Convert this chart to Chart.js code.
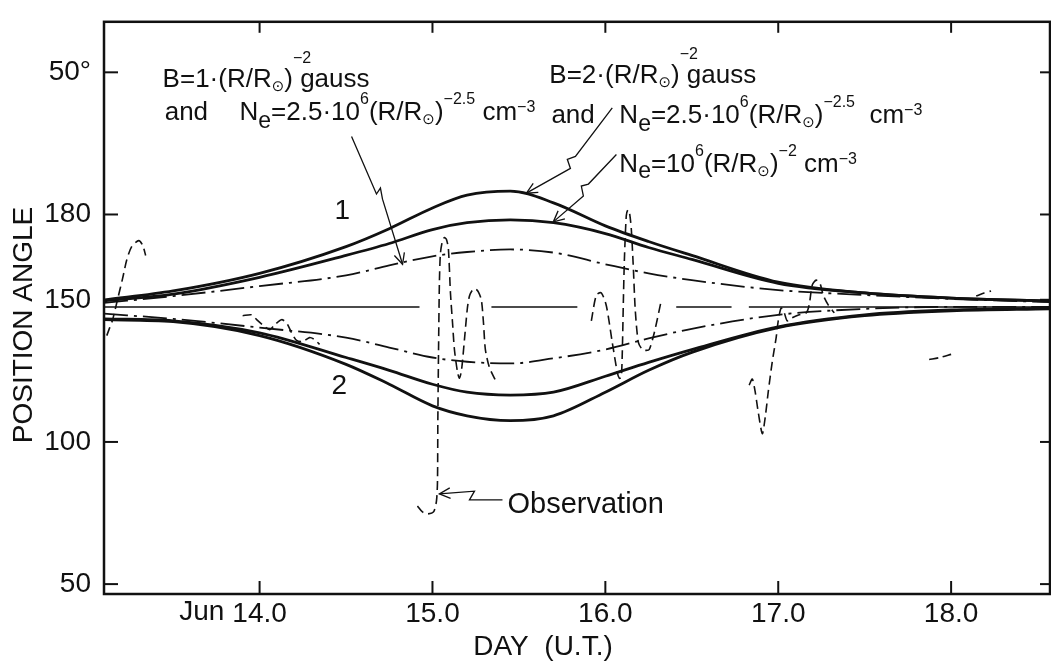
<!DOCTYPE html>
<html>
<head>
<meta charset="utf-8">
<script src="https://cdn.jsdelivr.net/npm/chart.js@4.4.0/dist/chart.umd.min.js"></script>
<style>
html, body { margin: 0; padding: 0; background: #fff; overflow: hidden; }
</style>
</head>
<body>
<canvas id="chart" width="1051" height="663"></canvas>
<script>
var INK = '#111';
var FONT = "'Liberation Sans', 'DejaVu Sans', Arial, sans-serif";

// model curves, sampled on the same days
var days = [13.1, 13.5, 14.0, 14.5, 14.75, 15.0, 15.2, 15.45, 15.7, 16.0, 16.25, 16.5, 17.0, 17.5, 18.0, 18.57];
var upperOuter   = [149.9, 153.1, 159.3, 168.7, 175.0, 182.3, 186.8, 188.2, 184.1, 176.0, 170.5, 165.6, 156.2, 152.4, 150.6, 149.6];
var upperInner   = [149.6, 152.0, 157.9, 165.6, 169.8, 174.7, 177.1, 178.1, 177.1, 173.3, 168.4, 164.2, 155.8, 152.4, 150.6, 149.6];
var upperDashDot = [148.9, 151.3, 154.8, 158.6, 162.1, 165.3, 166.8, 167.7, 166.6, 162.5, 159.3, 156.9, 153.4, 151.7, 150.3, 149.2];
var lowerDashDot = [145.1, 143.3, 140.2, 136.7, 133.2, 129.7, 128.2, 127.6, 129.4, 132.5, 136.4, 139.8, 144.7, 146.8, 147.5, 147.5];
var lowerInner   = [143.3, 142.6, 138.4, 129.7, 125.2, 120.3, 117.5, 116.5, 117.5, 123.1, 128.0, 132.5, 140.5, 144.7, 146.4, 147.1];
var lowerOuter   = [143.0, 142.3, 137.4, 127.3, 120.3, 112.7, 109.2, 107.5, 109.2, 117.5, 125.2, 131.5, 140.2, 144.4, 146.1, 146.8];

// long-dashed reference line (null = gap)
var centerDay   = [13.1, 14.925, 15.1, 15.341, 15.838, 16.1, 16.41, 16.73, 16.78, 16.83, 18.57];
var centerAngle = [147.5, 147.5, null, 147.5, 147.5, null, 147.5, 147.5, null, 147.5, 147.5];

// observation (null = break between traced pieces)
var obsDay = [
  13.116, 13.133, 13.150, 13.179, 13.208, 13.231, 13.260, 13.301, 13.324, 13.341,
  13.6,
  13.902, 13.954, 13.983, 14.017, 14.058, 14.087, 14.127, 14.156, 14.185, 14.214, 14.249, 14.289, 14.318, 14.347,
  14.6,
  14.913, 14.942, 14.971, 15.006, 15.023, 15.029, 15.031, 15.035, 15.040, 15.046, 15.058, 15.069, 15.081, 15.092, 15.104,
  15.116, 15.127, 15.145, 15.156, 15.168, 15.185, 15.202, 15.214, 15.231, 15.249, 15.266, 15.283, 15.295, 15.306, 15.329, 15.370,
  15.6,
  15.919, 15.948, 15.977, 16.006, 16.040, 16.069, 16.081, 16.092, 16.098, 16.104, 16.110, 16.121, 16.130, 16.139, 16.150,
  16.162, 16.173, 16.191, 16.214, 16.237, 16.254, 16.283, 16.324,
  16.6,
  16.832, 16.850, 16.867, 16.884, 16.908, 16.925, 16.942, 16.965, 16.988, 17.000, 17.017, 17.035, 17.052, 17.081, 17.121,
  17.162, 17.179, 17.197, 17.220, 17.243, 17.260, 17.289, 17.324,
  17.6,
  17.873, 17.936, 18.000,
  18.07,
  18.145, 18.191, 18.231
];
var obsAngle = [
  137.4, 140.2, 143.0, 150.3, 157.6, 163.9, 168.7, 170.8, 169.1, 165.6,
  null,
  144.4, 144.7, 143.0, 141.2, 139.5, 141.2, 143.0, 141.9, 138.4, 135.7, 135.3, 136.7, 136.0, 134.3,
  null,
  77.5, 75.4, 74.7, 75.4, 79.2, 86.2, 107.1, 131.5, 155.8, 166.3, 170.8, 171.9, 171.2, 168.0, 152.4,
  141.9, 132.5, 124.5, 122.4, 125.2, 136.0, 147.1, 151.3, 153.4, 153.8, 152.7, 149.9, 141.9, 132.5, 126.3, 121.0,
  null,
  142.6, 151.7, 152.4, 147.8, 135.0, 124.5, 122.4, 122.8, 131.5, 148.9, 163.9, 179.5, 181.6, 180.9, 175.0,
  161.1, 146.4, 135.0, 132.5, 132.2, 132.5, 138.4, 149.9,
  null,
  120.0, 122.1, 117.5, 110.6, 102.9, 108.8, 117.5, 128.0, 136.7, 142.6, 147.1, 145.4, 142.6, 143.7, 144.7,
  145.4, 148.2, 155.2, 156.9, 155.5, 151.7, 148.2, 145.4,
  null,
  129.0, 129.7, 130.8,
  null,
  151.3, 152.4, 153.1
];

var xTicks = [14, 15, 16, 17, 18];
var xTickLabels = ['14.0', '15.0', '16.0', '17.0', '18.0'];
var yTicks = [50, 100, 150, 180, 230];
var yTickLabels = ['50', '100', '150', '180', '50°'];

// annotations, anchored in data units (day, angle)
var notes = [
  { day: 13.439, angle: 224.8, parts: [['B=1·(R/R', 26], ['⊙', 15, 4], [')', 26], ['−2', 16, -24, 0], [' gauss', 26]] },
  { day: 13.451, angle: 213.3, parts: [['and', 26]] },
  { day: 13.884, angle: 213.3, parts: [['N', 26], ['e', 23, 8], ['=2.5·10', 26], ['6', 16, -16], ['(R/R', 26], ['⊙', 15, 4], [')', 26], ['−2.5', 16, -16], [' cm', 26], ['−3', 16, -8]] },
  { day: 15.676, angle: 226.2, parts: [['B=2·(R/R', 26], ['⊙', 15, 4], [')', 26], ['−2', 16, -24, 0], [' gauss', 26]] },
  { day: 15.688, angle: 212.3, parts: [['and', 26]] },
  { day: 16.081, angle: 212.3, parts: [['N', 26], ['e', 23, 8], ['=2.5·10', 26], ['6', 16, -16], ['(R/R', 26], ['⊙', 15, 4], [')', 26], ['−2.5', 16, -16], ['  cm', 26], ['−3', 16, -8]] },
  { day: 16.081, angle: 194.8, parts: [['N', 26], ['e', 23, 6], ['=10', 26], ['6', 16, -16], ['(R/R', 26], ['⊙', 15, 4], [')', 26], ['−2', 16, -16], [' cm', 26], ['−3', 16, -8]] },
  { day: 14.434, angle: 178.5, parts: [['1', 28]] },
  { day: 14.416, angle: 116.9, parts: [['2', 28]] },
  { day: 15.434, angle: 75.1, parts: [['Observation', 29]] }
];
var arrowPaths = [
  [[14.532, 207.4], [14.676, 187.2], [14.699, 189.3], [14.711, 185.4], [14.827, 162.5]],
  [[16.040, 217.5], [15.827, 200.4], [15.780, 199.4], [15.798, 196.2], [15.543, 187.5]],
  [[16.064, 201.1], [15.902, 190.7], [15.861, 190.0], [15.873, 186.5], [15.699, 177.4]],
  [[15.405, 79.6], [15.214, 79.6], [15.243, 82.7], [15.040, 81.7]]
];

var TICK_PAD = -5;

function pts(xs, ys) {
  return xs.map(function (x, i) { return { x: x, y: ys[i] }; });
}

function drawRich(ctx, x, y, parts) {
  parts.forEach(function (p) {
    ctx.font = p[1] + 'px ' + FONT;
    ctx.fillText(p[0], x, y + (p[2] || 0));
    if (p[3] !== 0) x += ctx.measureText(p[0]).width;
  });
}

var inkPlugin = {
  id: 'ink',
  afterDraw: function (chart) {
    var ctx = chart.ctx, a = chart.chartArea;
    var xs = chart.scales.x, ys = chart.scales.y;
    function seg(x1, y1, x2, y2) { ctx.beginPath(); ctx.moveTo(x1, y1); ctx.lineTo(x2, y2); ctx.stroke(); }
    ctx.save();
    ctx.strokeStyle = INK;
    ctx.fillStyle = INK;
    ctx.lineCap = 'butt';

    // frame and inward ticks
    ctx.lineWidth = 2.5;
    ctx.strokeRect(a.left, a.top, a.right - a.left, a.bottom - a.top);
    ctx.lineWidth = 2;
    xTicks.forEach(function (v) {
      var px = xs.getPixelForValue(v);
      seg(px, a.bottom, px, a.bottom - 13);
      seg(px, a.top, px, a.top + 11);
    });
    yTicks.forEach(function (v) {
      var py = ys.getPixelForValue(v);
      seg(a.left, py, a.left + 14, py);
      seg(a.right, py, a.right - 10, py);
    });

    // "Jun" before the first day label, on the same line as the tick labels
    ctx.font = '28px ' + FONT;
    ctx.textAlign = 'right';
    ctx.textBaseline = 'middle';
    var p0 = xs.getPixelForValue(xTicks[0]);
    ctx.fillText('Jun', p0 - ctx.measureText(xTickLabels[0]).width / 2 - 8, xs.top + TICK_PAD + 23);

    // axis titles
    ctx.textAlign = 'center';
    ctx.fillText('DAY  (U.T.)', 543, 647);
    ctx.save();
    ctx.translate(24, 325);
    ctx.rotate(-Math.PI / 2);
    ctx.fillText('POSITION ANGLE', 0, 0);
    ctx.restore();

    // labels
    ctx.textAlign = 'left';
    ctx.textBaseline = 'alphabetic';
    notes.forEach(function (n) {
      drawRich(ctx, xs.getPixelForValue(n.day), ys.getPixelForValue(n.angle), n.parts);
    });

    // zigzag arrows
    ctx.lineWidth = 1.3;
    ctx.lineJoin = 'miter';
    arrowPaths.forEach(function (path) {
      var P = path.map(function (q) { return [xs.getPixelForValue(q[0]), ys.getPixelForValue(q[1])]; });
      ctx.beginPath();
      ctx.moveTo(P[0][0], P[0][1]);
      for (var i = 1; i < P.length; i++) ctx.lineTo(P[i][0], P[i][1]);
      ctx.stroke();
      var e = P[P.length - 1], b = P[P.length - 2];
      var ang = Math.atan2(e[1] - b[1], e[0] - b[0]);
      ctx.beginPath();
      ctx.moveTo(e[0] - 12 * Math.cos(ang - 0.45), e[1] - 12 * Math.sin(ang - 0.45));
      ctx.lineTo(e[0], e[1]);
      ctx.lineTo(e[0] - 12 * Math.cos(ang + 0.45), e[1] - 12 * Math.sin(ang + 0.45));
      ctx.stroke();
    });
    ctx.restore();
  }
};

var solid = { borderColor: INK, borderWidth: 2.8, pointRadius: 0, cubicInterpolationMode: 'monotone', fill: false };
var dashDot = { borderColor: INK, borderWidth: 1.8, pointRadius: 0, cubicInterpolationMode: 'monotone', borderDash: [24, 6, 3, 6], fill: false };

var ctx = document.getElementById('chart').getContext('2d');
new Chart(ctx, {
  type: 'line',
  data: {
    datasets: [
      Object.assign({ data: pts(days, upperOuter) }, solid),
      Object.assign({ data: pts(days, upperInner) }, solid),
      Object.assign({ data: pts(days, lowerInner) }, solid),
      Object.assign({ data: pts(days, lowerOuter) }, solid),
      Object.assign({ data: pts(days, upperDashDot) }, dashDot),
      Object.assign({ data: pts(days, lowerDashDot) }, dashDot),
      { data: pts(centerDay, centerAngle), borderColor: INK, borderWidth: 1.5, pointRadius: 0, spanGaps: false, fill: false },
      { data: pts(obsDay, obsAngle), borderColor: INK, borderWidth: 1.6, pointRadius: 0, tension: 0.25, borderDash: [9, 5], spanGaps: false, fill: false }
    ]
  },
  options: {
    responsive: false,
    animation: false,
    events: [],
    layout: { padding: { top: 16, right: 1, left: 0, bottom: 0 } },
    plugins: { legend: { display: false }, tooltip: { enabled: false } },
    scales: {
      x: {
        type: 'linear',
        min: 13.1,
        max: 18.572,
        afterBuildTicks: function (s) { s.ticks = xTicks.map(function (v) { return { value: v }; }); },
        afterFit: function (s) { s.height = 69; },
        grid: { display: false },
        border: { display: false },
        ticks: {
          autoSkip: false, maxRotation: 0, padding: TICK_PAD, color: INK,
          font: { family: FONT, size: 28 },
          callback: function (v) { return xTickLabels[xTicks.indexOf(v)]; }
        }
      },
      y: {
        type: 'linear',
        min: 46.52,
        max: 247.77,
        afterBuildTicks: function (s) { s.ticks = yTicks.map(function (v) { return { value: v }; }); },
        afterFit: function (s) { s.width = 104; },
        grid: { display: false },
        border: { display: false },
        ticks: {
          autoSkip: false, padding: 5, color: INK,
          font: { family: FONT, size: 28 },
          callback: function (v) { return yTickLabels[yTicks.indexOf(v)]; }
        }
      }
    }
  },
  plugins: [inkPlugin]
});
</script>
</body>
</html>
